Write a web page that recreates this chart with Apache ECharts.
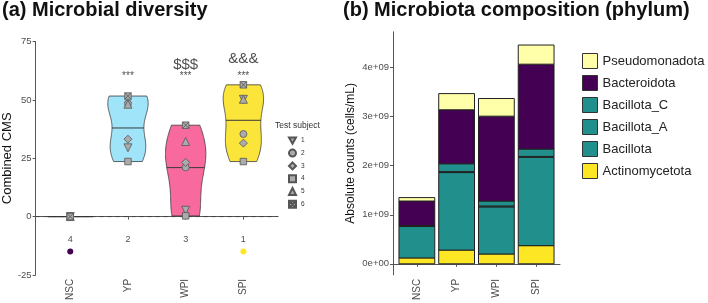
<!DOCTYPE html>
<html>
<head>
<meta charset="utf-8">
<script src="https://cdn.jsdelivr.net/npm/echarts@6/dist/echarts.min.js"></script>
<style>
html, body { margin: 0; padding: 0; background: #fff; }
#main { width: 708px; height: 303px; }
</style>
</head>
<body>
<div id="main"></div>
<script>
// ---- panel (a) data ----
var groups = ['NSC', 'YP', 'WPI', 'SPI'];
var subjects = ['1', '2', '3', '4', '5', '6'];
// combined CMS, one value per test subject 1..6
var cmsNSC = [0, 0, 0, 0, 0, 0];
var cmsYP = [29.5, 48.5, 33.2, 23.6, 48.2, 51.7];
var cmsWPI = [2.7, 21.1, 23.2, 0.3, 32.2, 39.2];
var cmsSPI = [50.3, 35.4, 31.5, 23.6, 50.3, 56.5];
var cmsMedians = [0, 38, 21, 41.3];
var sigStars = ['', '***', '***', '***'];
var sigStarsY = [60, 60, 60, 60];
var sigExtra = ['', '', '$$$', '&&&'];
var sigExtraY = [0, 0, 65, 67.7];
var ranks = ['4', '2', '3', '1'];
var rankY = -10;
var rankDotGroups = ['NSC', 'SPI'];
var rankDotY = -15;
var cmsTicks = [-25, 0, 25, 50, 75];

// ---- panel (b) data ----
var phyla = ['Actinomycetota', 'Bacillota', 'Bacillota_A', 'Bacillota_C', 'Bacteroidota', 'Pseudomonadota'];
var actinomycetota = [0.12e9, 0.28e9, 0.20e9, 0.37e9];
var bacillota = [0.64e9, 1.58e9, 0.96e9, 1.80e9];
var bacillotaA = [0.01e9, 0.02e9, 0.02e9, 0.02e9];
var bacillotaC = [0.01e9, 0.16e9, 0.10e9, 0.15e9];
var bacteroidota = [0.50e9, 1.10e9, 1.73e9, 1.73e9];
var pseudomonadota = [0.07e9, 0.33e9, 0.36e9, 0.39e9];
var countTicks = [0, 1e9, 2e9, 3e9, 4e9];
var countTickLabels = ['0e+00', '1e+09', '2e+09', '3e+09', '4e+09'];

// ---- styles ----
var FONT = "'Liberation Sans', Arial, sans-serif";
var violinColors = ['#bbbbbb', '#A0E4F9', '#F8699E', '#FCE53B'];
var dotColors = { NSC: '#440154', SPI: '#FDE725' };
var phylaColors = ['#FDE725', '#21908C', '#21908C', '#21908C', '#440154', '#FFFFAA'];
var subjectSymbols = [
    'path://M0,0L10,0L5,9Z',
    'circle',
    'diamond',
    'rect',
    'triangle',
    'path://M0,0H10V10H0Z M0,0L10,10 M10,0L0,10'
];
var subjectSizes = [8, 7, 8, 6.5, 8, 6.5];
var HALF_W = 0.35;
var BAR_HALF = 0.45;

var cmsByGroup = [cmsNSC, cmsYP, cmsWPI, cmsSPI];
var countsByPhylum = [actinomycetota, bacillota, bacillotaA, bacillotaC, bacteroidota, pseudomonadota];

// cumulative bottoms of each stacked segment
var stackBase = [];
countsByPhylum.forEach(function (arr, pi) {
    stackBase.push(groups.map(function (g, gi) {
        return pi === 0 ? 0 : stackBase[pi - 1][gi] + countsByPhylum[pi - 1][gi];
    }));
});

// gaussian kernel density (bw.nrd0), trimmed to the data range, scaled to max 1
function density(vals) {
    var n = vals.length;
    var s = vals.slice().sort(function (a, b) { return a - b; });
    if (s[n - 1] - s[0] === 0) return null;
    var mean = s.reduce(function (a, b) { return a + b; }, 0) / n;
    var sd = Math.sqrt(s.reduce(function (a, b) { return a + (b - mean) * (b - mean); }, 0) / (n - 1));
    function q(p) {
        var h = (n - 1) * p, l = Math.floor(h);
        var u = Math.min(l + 1, n - 1);
        return s[l] + (h - l) * (s[u] - s[l]);
    }
    var iqr = (q(0.75) - q(0.25)) / 1.34;
    var lo = Math.min(sd, iqr) || sd;
    var bw = 0.9 * lo * Math.pow(n, -0.2);
    var pts = [];
    for (var i = 0; i <= 80; i++) {
        var y = s[0] + (s[n - 1] - s[0]) * i / 80;
        var d = 0;
        s.forEach(function (v) { var z = (y - v) / bw; d += Math.exp(-0.5 * z * z); });
        pts.push([y, d]);
    }
    var mx = Math.max.apply(null, pts.map(function (p) { return p[1]; }));
    return pts.map(function (p) { return [p[0], p[1] / mx]; });
}

var violins = cmsByGroup.map(density);

function densAt(dens, y) {
    for (var i = 1; i < dens.length; i++) {
        if (y <= dens[i][0]) {
            var t = (y - dens[i - 1][0]) / (dens[i][0] - dens[i - 1][0]);
            return dens[i - 1][1] + t * (dens[i][1] - dens[i - 1][1]);
        }
    }
    return dens[dens.length - 1][1];
}

function chart(id) {
    var myChart = echarts.init(document.getElementById(id));

    var series = [];

    // dashed zero line
    series.push({
        type: 'line',
        xAxisIndex: 0, yAxisIndex: 0,
        data: [[0.4, 0], [4.6, 0]],
        symbol: 'none',
        silent: true,
        z: 1,
        lineStyle: { color: '#444', width: 1, type: [4, 4] }
    });

    // violins
    series.push({
        type: 'custom',
        xAxisIndex: 0, yAxisIndex: 0,
        z: 2,
        silent: true,
        data: groups.map(function (g, i) { return [i + 1]; }),
        renderItem: function (params, api) {
            var gi = api.value(0);
            var dens = violins[gi - 1];
            if (!dens) {
                var v = cmsByGroup[gi - 1][0];
                var a = api.coord([gi - 0.39, v]), b = api.coord([gi + 0.39, v]);
                return {
                    type: 'line',
                    shape: { x1: a[0], y1: a[1], x2: b[0], y2: b[1] },
                    style: { stroke: '#333', lineWidth: 1.2 }
                };
            }
            var left = [], right = [];
            dens.forEach(function (p) {
                left.push(api.coord([gi - p[1] * HALF_W, p[0]]));
                right.push(api.coord([gi + p[1] * HALF_W, p[0]]));
            });
            var poly = left.concat(right.reverse());
            var m = cmsMedians[gi - 1];
            var w = densAt(dens, m) * HALF_W;
            var ml = api.coord([gi - w, m]), mr = api.coord([gi + w, m]);
            return {
                type: 'group',
                children: [
                    { type: 'polygon', shape: { points: poly }, style: { fill: violinColors[gi - 1], stroke: '#3a3a3a', lineWidth: 0.8 } },
                    { type: 'line', shape: { x1: ml[0], y1: ml[1], x2: mr[0], y2: mr[1] }, style: { stroke: '#3a3a3a', lineWidth: 1 } }
                ]
            };
        }
    });

    // subject points
    subjects.forEach(function (s, si) {
        series.push({
            name: s,
            type: 'scatter',
            xAxisIndex: 0, yAxisIndex: 0,
            z: 3,
            symbol: subjectSymbols[si],
            symbolSize: subjectSizes[si],
            itemStyle: { color: '#ABABAB', borderColor: '#555', borderWidth: 0.8, opacity: 1 },
            data: groups.map(function (g, gi) { return [gi + 1, cmsByGroup[gi][si]]; })
        });
    });

    // significance marks and ranks
    function textSeries(labels, ys, size) {
        return {
            type: 'scatter',
            xAxisIndex: 0, yAxisIndex: 0,
            symbolSize: 0,
            silent: true,
            z: 4,
            data: labels.map(function (t, i) { return { value: [i + 1, ys[i]], name: t }; }),
            label: {
                show: true, position: 'inside',
                formatter: function (p) { return p.name; },
                fontFamily: FONT, fontSize: size, color: '#222'
            }
        };
    }
    series.push(textSeries(sigStars, sigStarsY, 10));
    series.push(textSeries(sigExtra, sigExtraY, 15));
    series.push(textSeries(ranks, ranks.map(function () { return rankY; }), 9));

    series.push({
        type: 'scatter',
        xAxisIndex: 0, yAxisIndex: 0,
        symbolSize: 6,
        silent: true,
        data: rankDotGroups.map(function (g) {
            return { value: [groups.indexOf(g) + 1, rankDotY], itemStyle: { color: dotColors[g], opacity: 1 } };
        })
    });

    // stacked bars (segments drawn from cumulative bottoms)
    phyla.forEach(function (p, pi) {
        series.push({
            name: p,
            type: 'custom',
            xAxisIndex: 1, yAxisIndex: 1,
            itemStyle: { color: phylaColors[pi], borderColor: '#222', borderWidth: 1 },
            encode: { x: 0, y: [1, 2] },
            data: groups.map(function (g, gi) {
                return [gi + 1, stackBase[pi][gi], stackBase[pi][gi] + countsByPhylum[pi][gi]];
            }),
            renderItem: function (params, api) {
                var x = api.value(0);
                var p0 = api.coord([x - BAR_HALF, api.value(1)]);
                var p1 = api.coord([x + BAR_HALF, api.value(2)]);
                return {
                    type: 'rect',
                    shape: { x: p0[0], y: p1[1], width: p1[0] - p0[0], height: p0[1] - p1[1] },
                    style: { fill: phylaColors[pi], stroke: '#222', lineWidth: 1 }
                };
            }
        });
    });

    var axisLineStyle = { show: true, lineStyle: { color: '#555', width: 1 } };
    var tickStyle = { show: true, length: 3, lineStyle: { color: '#555' } };

    var option = {
        animation: false,
        textStyle: { fontFamily: FONT },
        title: [
            { text: '(a) Microbial diversity', left: 2, top: 0, padding: 0, textStyle: { fontSize: 20, fontWeight: 'bold', color: '#111', fontFamily: FONT } },
            { text: '(b) Microbiota composition (phylum)', left: 343, top: 0, padding: 0, textStyle: { fontSize: 20, fontWeight: 'bold', color: '#111', fontFamily: FONT } }
        ],
        graphic: [
            { type: 'text', left: 275, top: 121, style: { text: 'Test subject', fontSize: 8.5, fill: '#333', fontFamily: FONT } }
        ],
        legend: [
            {
                data: subjects,
                orient: 'vertical',
                left: 288, top: 136.5, padding: 0,
                itemWidth: 7, itemHeight: 7, itemGap: 3.8,
                selectedMode: false,
                textStyle: { fontSize: 6.5, color: '#333', fontFamily: FONT }
            },
            {
                data: phyla.slice().reverse(),
                orient: 'vertical',
                left: 582, top: 53, padding: 0,
                itemWidth: 15, itemHeight: 15, itemGap: 6,
                icon: 'rect',
                selectedMode: false,
                itemStyle: { borderColor: '#333', borderWidth: 1 },
                textStyle: { fontSize: 13, color: '#222', fontFamily: FONT }
            }
        ],
        grid: [
            { left: 27, top: 41.7, width: 251, height: 239 },
            { left: 393, top: 31.8, width: 167, height: 243.6 }
        ],
        xAxis: [
            {
                gridIndex: 0, type: 'value', min: 0.4, max: 4.6,
                axisLine: axisLineStyle,
                axisTick: { show: true, length: 3, lineStyle: { color: '#555' }, customValues: [1, 2, 3, 4] },
                splitLine: { show: false },
                axisLabel: {
                    customValues: [1, 2, 3, 4], rotate: 90, fontSize: 10, color: '#4d4d4d', margin: 4,
                    formatter: function (v) { return groups[Math.round(v) - 1]; }
                }
            },
            {
                gridIndex: 1, type: 'value', min: 0.4, max: 4.6,
                axisLine: axisLineStyle,
                axisTick: { show: true, length: 3, lineStyle: { color: '#555' }, customValues: [1, 2, 3, 4] },
                splitLine: { show: false },
                axisLabel: {
                    customValues: [1, 2, 3, 4], rotate: 90, fontSize: 10, color: '#4d4d4d', margin: 4,
                    formatter: function (v) { return groups[Math.round(v) - 1]; }
                }
            }
        ],
        yAxis: [
            {
                gridIndex: 0, type: 'value', min: -25, max: 75, interval: 25,
                name: 'Combined CMS', nameLocation: 'middle', nameGap: 19,
                nameTextStyle: { fontSize: 13, color: '#111', fontFamily: FONT },
                axisLine: axisLineStyle,
                axisTick: tickStyle,
                splitLine: { show: false },
                axisLabel: { fontSize: 9.5, color: '#4d4d4d', margin: 4, customValues: cmsTicks }
            },
            {
                gridIndex: 1, type: 'value', min: -0.226e9, max: 4.73e9,
                name: 'Absolute counts (cells/mL)', nameLocation: 'middle', nameGap: 36,
                nameTextStyle: { fontSize: 12, color: '#111', fontFamily: FONT },
                axisLine: axisLineStyle,
                axisTick: { show: true, length: 3, lineStyle: { color: '#555' }, customValues: countTicks },
                splitLine: { show: false },
                axisLabel: {
                    fontSize: 9.5, color: '#4d4d4d', margin: 4, customValues: countTicks,
                    formatter: function (v) { return countTickLabels[countTicks.indexOf(v)]; }
                }
            }
        ],
        series: series
    };

    myChart.setOption(option);
    return myChart;
}

var chartInit = chart('main');
window.addEventListener('resize', function () { chartInit.resize(); });
</script>
</body>
</html>
